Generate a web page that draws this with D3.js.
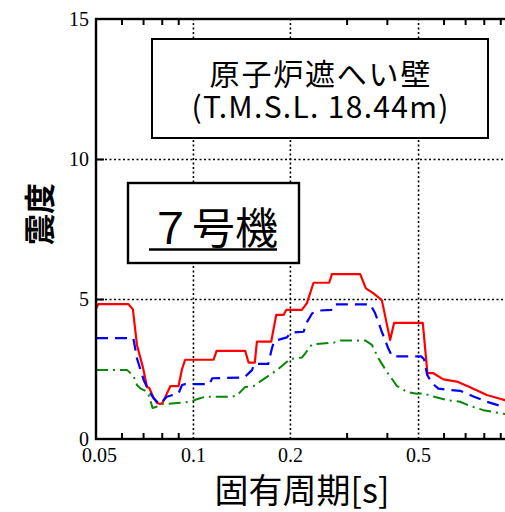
<!DOCTYPE html>
<html>
<head>
<meta charset="utf-8">
<script src="https://cdn.jsdelivr.net/npm/d3@7/dist/d3.min.js"></script>
<style>
body { margin: 0; background: #fff; }
svg { display: block; }
</style>
</head>
<body>
<div id="chart"></div>
<script>
// Spectrum curves (period [s], value)
var redPeriods = [0.050, 0.0508, 0.0630, 0.0651, 0.0670, 0.0700, 0.0720, 0.0732, 0.0752, 0.0773, 0.0792, 0.0805, 0.0851, 0.0902, 0.0925, 0.0946, 0.1159, 0.1184, 0.1453, 0.1488, 0.1556, 0.1580, 0.1750, 0.1814, 0.1911, 0.1948, 0.2179, 0.2259, 0.2368, 0.2649, 0.2701, 0.3306, 0.3443, 0.3636, 0.3859, 0.4095, 0.4214, 0.5172, 0.5346, 0.5580, 0.5994, 0.6598, 0.7254, 0.8176, 0.910, 1.0];
var redValues = [4.64, 4.82, 4.82, 4.63, 3.36, 2.54, 1.86, 1.82, 1.51, 1.29, 1.25, 1.29, 1.89, 1.89, 2.50, 2.83, 2.83, 3.15, 3.15, 2.73, 2.73, 3.48, 3.48, 4.43, 4.43, 4.61, 4.61, 4.85, 5.58, 5.58, 5.89, 5.89, 5.38, 5.20, 4.96, 3.54, 4.15, 4.15, 2.35, 2.35, 2.13, 2.05, 1.85, 1.57, 1.42, 1.27];

var bluePeriods = [0.050, 0.0653, 0.0670, 0.0703, 0.0727, 0.0755, 0.0788, 0.0830, 0.0902, 0.0925, 0.0946, 0.1124, 0.1148, 0.1443, 0.1525, 0.1550, 0.1713, 0.1759, 0.1788, 0.1958, 0.2019, 0.2205, 0.2264, 0.2346, 0.2484, 0.2687, 0.2745, 0.3551, 0.3680, 0.3859, 0.4046, 0.4155, 0.5111, 0.5220, 0.5334, 0.5519, 0.5785, 0.6144, 0.6756, 0.7429, 0.8176, 0.932, 1.0];
var blueValues = [3.60, 3.60, 2.88, 2.11, 1.75, 1.45, 1.25, 1.51, 1.63, 1.93, 1.96, 1.96, 2.17, 2.20, 2.46, 2.68, 2.68, 3.24, 3.50, 3.63, 3.80, 3.83, 4.19, 4.49, 4.59, 4.61, 4.81, 4.81, 4.49, 3.83, 3.22, 2.95, 2.95, 2.85, 2.30, 2.00, 1.80, 1.76, 1.72, 1.52, 1.33, 1.13, 1.05];

var greenPeriods = [0.050, 0.0625, 0.0654, 0.0670, 0.0686, 0.0720, 0.0732, 0.0749, 0.0777, 0.0795, 0.0951, 0.0997, 0.1029, 0.1092, 0.1325, 0.1373, 0.1453, 0.1543, 0.1697, 0.1823, 0.2004, 0.2179, 0.2232, 0.2341, 0.2731, 0.2865, 0.3426, 0.3594, 0.3768, 0.4000, 0.4297, 0.4616, 0.4957, 0.5195, 0.5519, 0.6144, 0.6756, 0.7254, 0.7979, 0.932, 1.0];
var greenValues = [2.46, 2.46, 2.25, 1.93, 1.81, 1.69, 1.52, 1.11, 1.16, 1.24, 1.31, 1.36, 1.42, 1.51, 1.51, 1.57, 1.86, 1.89, 2.22, 2.46, 2.86, 2.91, 3.06, 3.38, 3.44, 3.52, 3.52, 3.36, 2.88, 2.40, 1.90, 1.68, 1.62, 1.63, 1.53, 1.39, 1.33, 1.18, 1.03, 0.89, 0.84];

// Axis ticks and labels
var xMajorTicks = [0.05, 0.1, 0.2, 0.5];
var xMajorLabels = ["0.05", "0.1", "0.2", "0.5"];
var xMinorTicks = [0.06, 0.07, 0.08, 0.09, 0.3, 0.4, 0.6, 0.7, 0.8, 0.9];
var xGridTicks = [0.1, 0.2, 0.5];
var yTicks = [0, 5, 10, 15];
var yGridTicks = [5, 10];

var titleLines = ["原子炉遮へい壁", "(T.M.S.L. 18.44m)"];
var unitLabel = "７号機";
var xTitle = "固有周期[s]";
var yTitle = "震度";

// Sizing: the plot runs past the right edge of the window (up to 1.0 s)
var margin = {top: 19, left: 96};
var width = 419;
var height = 420;

var svg = d3.select("#chart").append("svg")
    .attr("width", 505)
    .attr("height", 512);

var x = d3.scaleLog().domain([0.05, 1.0]).range([0, width]);
var y = d3.scaleLinear().domain([0, 15]).range([height, 0]);

svg.append("defs").append("clipPath")
    .attr("id", "plotclip")
    .append("rect")
    .attr("width", width)
    .attr("height", height);

var g = svg.append("g")
    .attr("transform", "translate(" + margin.left + "," + margin.top + ")");

// Dotted grid
g.append("g")
    .attr("class", "grid")
    .attr("transform", "translate(0," + height + ")")
    .call(d3.axisBottom(x).tickValues(xGridTicks).tickSize(-height).tickFormat(""))
    .call(function(s) { s.select(".domain").remove(); });

g.append("g")
    .attr("class", "grid")
    .call(d3.axisLeft(y).tickValues(yGridTicks).tickSize(-width).tickFormat(""))
    .call(function(s) { s.select(".domain").remove(); });

g.selectAll(".grid line")
    .attr("stroke", "#000")
    .attr("stroke-width", 1.6)
    .attr("stroke-dasharray", "2,2.5");

// Curves
var series = [
    {periods: redPeriods, values: redValues, color: "#ff0000", dash: null, w: 2.2},
    {periods: bluePeriods, values: blueValues, color: "#0000ff", dash: "12,7", w: 2.2},
    {periods: greenPeriods, values: greenValues, color: "#0a870a", dash: "12,5,2,5", w: 2}
];

var line = d3.line()
    .x(function(d) { return x(d[0]); })
    .y(function(d) { return y(d[1]); });

var curves = g.append("g").attr("clip-path", "url(#plotclip)");

series.forEach(function(s) {
    var pts = s.periods.map(function(p, i) { return [p, s.values[i]]; });
    curves.append("path")
        .datum(pts)
        .attr("fill", "none")
        .attr("stroke", s.color)
        .attr("stroke-width", s.w)
        .attr("stroke-dasharray", s.dash)
        .attr("stroke-linejoin", "round")
        .attr("d", line);
});

// Inward ticks on bottom and top
g.append("g")
    .attr("class", "ticks")
    .attr("transform", "translate(0," + height + ")")
    .call(d3.axisBottom(x).tickValues(xMinorTicks).tickSize(-6).tickFormat(""));

g.append("g")
    .attr("class", "ticks")
    .call(d3.axisTop(x).tickValues(xMinorTicks).tickSize(-6).tickFormat(""));

g.append("g")
    .attr("class", "ticks")
    .call(d3.axisLeft(y).tickValues(yGridTicks).tickSize(-8).tickFormat(""));

g.selectAll(".ticks .domain").remove();
g.selectAll(".ticks line")
    .attr("stroke", "#000")
    .attr("stroke-width", 2);

// Frame
g.append("rect")
    .attr("width", width)
    .attr("height", height)
    .attr("fill", "none")
    .attr("stroke", "#000")
    .attr("stroke-width", 2.4);

// Tick labels (serif, like the original)
var xLabels = g.append("g")
    .attr("transform", "translate(0," + height + ")")
    .call(d3.axisBottom(x).tickValues(xMajorTicks).tickSize(0).tickPadding(0)
        .tickFormat(function(d, i) { return xMajorLabels[i]; }));
xLabels.select(".domain").remove();
xLabels.selectAll("text")
    .attr("y", 23)
    .attr("dy", null)
    .attr("dx", function(d, i) { return i === 0 ? 3 : 0; })
    .attr("fill", "#000")
    .style("font-family", "'Liberation Serif', 'DejaVu Serif', serif")
    .style("font-size", "20px");

var yLabels = g.append("g")
    .call(d3.axisLeft(y).tickValues(yTicks).tickSize(0).tickPadding(7));
yLabels.select(".domain").remove();
yLabels.selectAll("text")
    .attr("dy", "0.34em")
    .attr("fill", "#000")
    .style("font-family", "'Liberation Serif', 'DejaVu Serif', serif")
    .style("font-size", "20px");

// Title box
var cjk = "'Noto Sans CJK JP', 'Noto Sans', sans-serif";

svg.append("rect")
    .attr("x", 152).attr("y", 39)
    .attr("width", 336).attr("height", 99)
    .attr("fill", "#fff")
    .attr("stroke", "#000")
    .attr("stroke-width", 2);

var titleSpacing = [1.8, 1.3];
svg.selectAll(".title-line")
    .data(titleLines)
    .enter().append("text")
    .attr("class", "title-line")
    .attr("x", function(d, i) { return 320 + titleSpacing[i] / 2; })
    .attr("y", function(d, i) { return 85 + i * 33; })
    .attr("text-anchor", "middle")
    .style("font-family", cjk)
    .style("font-size", "30px")
    .style("letter-spacing", function(d, i) { return titleSpacing[i] + "px"; })
    .text(function(d) { return d; });

// Unit box
svg.append("rect")
    .attr("x", 128).attr("y", 183)
    .attr("width", 171).attr("height", 80)
    .attr("fill", "#fff")
    .attr("stroke", "#000")
    .attr("stroke-width", 2.4);

svg.append("text")
    .attr("x", 149)
    .attr("y", 244)
    .style("font-family", cjk)
    .style("font-size", "43px")
    .text(unitLabel);

svg.append("line")
    .attr("x1", 149).attr("x2", 277)
    .attr("y1", 249.5).attr("y2", 249.5)
    .attr("stroke", "#000")
    .attr("stroke-width", 2.6);

// Axis titles
svg.append("text")
    .attr("x", 302)
    .attr("y", 503)
    .attr("text-anchor", "middle")
    .style("font-family", cjk)
    .style("font-size", "34px")
    .text(xTitle);

svg.append("text")
    .attr("transform", "translate(39,214) rotate(-90)")
    .attr("text-anchor", "middle")
    .attr("dy", "0.38em")
    .style("font-family", cjk)
    .style("font-size", "31px")
    .style("font-weight", "bold")
    .text(yTitle);
</script>
</body>
</html>
